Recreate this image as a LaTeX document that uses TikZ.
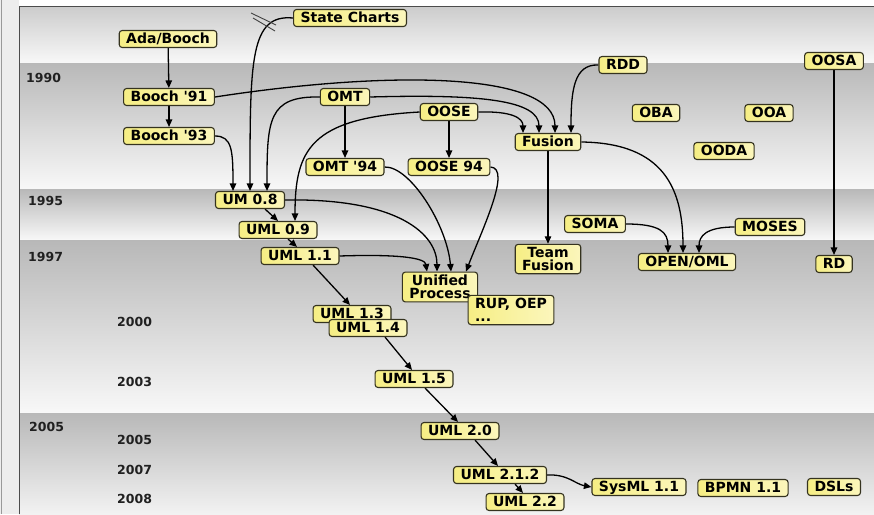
\documentclass[tikz,border=0pt]{standalone}
\usepackage{fontspec}
\setmainfont{DejaVu Sans}
\newfontfamily\boxfont{DejaVu Sans}
\usetikzlibrary{arrows.meta}
\definecolor{boxA}{HTML}{F6EE84}
\definecolor{boxB}{HTML}{FBF6BC}
\definecolor{boxline}{HTML}{35331F}
\definecolor{bandtop}{HTML}{B8B8B8}
\definecolor{bandbot}{HTML}{F8F8F8}
\definecolor{yeartext}{HTML}{202020}
\pgfdeclarelayer{bands}
\pgfdeclarelayer{links}
\pgfsetlayers{bands,links,main}
\tikzset{
  boxbase/.style={draw=boxline, line width=1.1pt, rounded corners=3pt,
    left color=boxA, right color=boxB,
    font=\boxfont\bfseries\fontsize{14}{14}\selectfont,
    inner xsep=7pt, inner ysep=2pt},
  box/.style={boxbase, text height=10.5pt, text depth=2.5pt},
  tallbox/.style={boxbase, inner ysep=3pt},
  link/.style={line width=1.3pt, black, -{Triangle[length=7.5pt,width=6.5pt]}},
  yearlabel/.style={anchor=west, inner sep=0pt, text=yeartext,
    font=\boxfont\bfseries\fontsize{12.5}{12.5}\selectfont},
  band/.style={top color=bandtop, bottom color=bandbot, draw=none}
}
\begin{document}
\begin{tikzpicture}[x=1pt,y=-1pt]
\useasboundingbox (0,0) rectangle (874,514);

% page background, left margin and time bands
\begin{pgfonlayer}{bands}
  \fill[white] (0,0) rectangle (874,514);
  \fill[black!7] (0,0) rectangle (19,514);
  \draw[black!40, line width=0.8pt] (1,0) -- (1,514);
  \shade[band, top color=black!20] (19,6.5) rectangle (874,63);
  \shade[band] (19,63) rectangle (874,189);
  \shade[band] (19,189) rectangle (874,240);
  \shade[band] (19,240) rectangle (874,413);
  \shade[band, bottom color=black!5] (19,413) rectangle (874,514);
  \draw[black!70, line width=1.2pt] (19.5,514) -- (19.5,6.5) -- (874,6.5);
\end{pgfonlayer}

% year labels
\node[yearlabel] (y1990) at (26,78) {1990};
\node[yearlabel] (y1995) at (28,201) {1995};
\node[yearlabel] (y1997) at (28,257) {1997};
\node[yearlabel] (y2000) at (117,322) {2000};
\node[yearlabel] (y2003) at (117,382) {2003};
\node[yearlabel] (y2005a) at (29,427) {2005};
\node[yearlabel] (y2005b) at (117,440) {2005};
\node[yearlabel] (y2007) at (117,470) {2007};
\node[yearlabel] (y2008) at (117,499) {2008};

% methods and notations
\node[box] (ada) at (168,39) {Ada/Booch};
\node[box] (sc) at (350,18) {State Charts};
\node[box] (b91) at (169,97) {Booch '91};
\node[box] (b93) at (169,136) {Booch '93};
\node[box] (omt) at (345,97) {OMT};
\node[box] (oose) at (449,112) {OOSE};
\node[box] (fusion) at (548,142) {Fusion};
\node[box] (rdd) at (623,65) {RDD};
\node[box] (oosa) at (834,61) {OOSA};
\node[box] (oba) at (656,113) {OBA};
\node[box] (ooa) at (769,113) {OOA};
\node[box] (ooda) at (724,151) {OODA};
\node[box] (omt94) at (345,167) {OMT '94};
\node[box] (oose94) at (449,167) {OOSE 94};
\node[box] (um08) at (250,200) {UM 0.8};
\node[box] (uml09) at (278,230) {UML 0.9};
\node[box] (uml11) at (300,256) {UML 1.1};
\node[tallbox, align=center] (up) at (440,287) {Unified\\[-1pt]Process};
\node[tallbox, align=left] (rup) at (511,310) {RUP, OEP\\[-1pt]...};
\node[box] (uml13) at (352,314) {UML 1.3};
\node[box] (uml14) at (368,328) {UML 1.4};
\node[box] (uml15) at (414,379) {UML 1.5};
\node[box] (uml20) at (460,431) {UML 2.0};
\node[box] (uml212) at (500,475) {UML 2.1.2};
\node[box] (uml22) at (525,502) {UML 2.2};
\node[box] (sysml) at (639,487) {SysML 1.1};
\node[box] (bpmn) at (743,488) {BPMN 1.1};
\node[box] (dsls) at (834,487) {DSLs};
\node[tallbox, align=center] (team) at (548,259) {Team\\[-1pt]Fusion};
\node[box] (soma) at (595,224) {SOMA};
\node[box] (moses) at (770,227) {MOSES};
\node[box] (open) at (687,262) {OPEN/OML};
\node[box] (rd) at (834,264) {RD};

% influences
\begin{pgfonlayer}{links}
  \draw[link] (ada) -- (b91);
  \draw[link] (b91) -- (b93);
  \draw[link] (omt) -- (omt94);
  \draw[link] (oose) -- (oose94);
  \draw[link] (fusion) -- (team);
  \draw[link] (oosa) -- (rd);

  \draw[link] (b93.east) .. controls (232,136) and (233,150) .. ([xshift=-17pt]um08.north);
  \draw[link] (sc.west) .. controls (250,14) and (250,60) .. (um08.north);
  \draw[line width=0.9pt, black!75] (251,13) -- (276,25) (253,18) -- (275,31);
  \draw[link] (omt.west) .. controls (268,96) and (267,120) .. ([xshift=17pt]um08.north);
  \draw[link] (oose.west) .. controls (310,118) and (295,150) .. ([xshift=17pt]uml09.north);

  \draw[link] (b91.east) .. controls (390,70) and (555,72) .. ([xshift=7pt]fusion.north);
  \draw[link] (omt.east) .. controls (480,94) and (539,100) .. ([xshift=-9pt]fusion.north);
  \draw[link] (oose.east) .. controls (512,111) and (523,118) .. ([xshift=-25pt]fusion.north);
  \draw[link] (rdd.west) .. controls (574,64) and (571,90) .. ([xshift=23pt]fusion.north);

  \draw[link] (fusion.east) .. controls (665,143) and (683,190) .. ([xshift=-4pt]open.north);
  \draw[link] (soma.east) .. controls (660,224) and (668,232) .. ([xshift=-19pt]open.north);
  \draw[link] (moses.west) .. controls (706,227) and (699,236) .. ([xshift=12pt]open.north);

  \draw[link] (uml11.east) .. controls (400,254) and (425,258) .. ([xshift=-13pt]up.north);
  \draw[link] (um08.east) .. controls (400,198) and (437,235) .. ([xshift=-3pt]up.north);
  \draw[link] (omt94.east) .. controls (410,166) and (447,225) .. ([xshift=11pt]up.north);
  \draw[link] (oose94.east) .. controls (512,168) and (482,230) .. ([xshift=26pt]up.north);

  \draw[link] ([xshift=15pt]um08.south) -- (uml09.north);
  \draw[link] ([xshift=10pt]uml09.south) -- ([xshift=-3pt]uml11.north);
  \draw[link] ([xshift=13pt]uml11.south) -- ([xshift=-2pt]uml13.north);
  \draw[link] ([xshift=17pt]uml14.south) -- ([xshift=-2pt]uml15.north);
  \draw[link] ([xshift=11pt]uml15.south) -- ([xshift=-2pt]uml20.north);
  \draw[link] ([xshift=15pt]uml20.south) -- ([xshift=-2pt]uml212.north);
  \draw[link] ([xshift=15pt]uml212.south) -- ([xshift=-2pt]uml22.north);
  \draw[link] (uml212.east) .. controls (568,474) and (575,484) .. (sysml.west);
\end{pgfonlayer}
\end{tikzpicture}
\end{document}
